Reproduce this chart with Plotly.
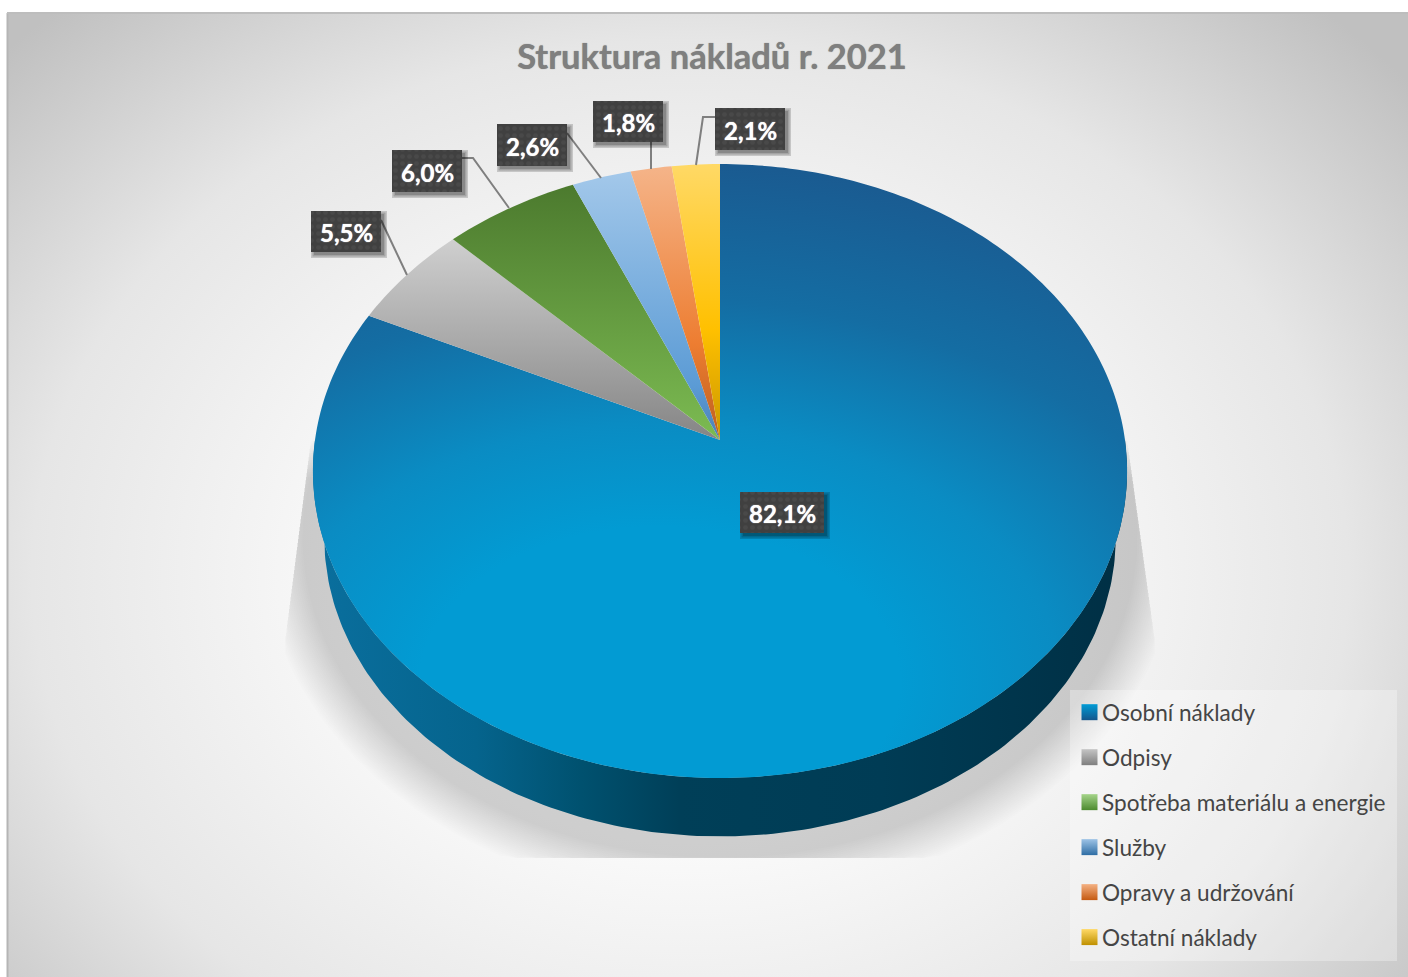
import math
import plotly.graph_objects as go

# ---------- data ----------
categories = ["Osobní náklady", "Odpisy", "Spotřeba materiálu a energie",
              "Služby", "Opravy a udržování", "Ostatní náklady"]
shares = [82.1, 5.5, 6.0, 2.6, 1.8, 2.1]
labels = ["82,1%", "5,5%", "6,0%", "2,6%", "1,8%", "2,1%"]
chart_title = "Struktura nákladů r. 2021"

# ---------- styles ----------
slice_scales = [
    None,
    [[0, "#858585"], [1, "#cfcfcf"]],
    [[0, "#7cbb52"], [1, "#4c7a2e"]],
    [[0, "#4a80b5"], [0.2, "#5b9bd5"], [1, "#a3c8ea"]],
    [[0, "#bd5f1e"], [0.35, "#ed7d31"], [1, "#f5b489"]],
    [[0, "#c99700"], [0.4, "#ffc000"], [1, "#ffd966"]],
]
key_colors = [("#009cd6", "#14568c"), ("#c4c4c4", "#7f7f7f"), ("#a5d48a", "#4c8a2e"),
              ("#9dc3e6", "#2e6da4"), ("#f4b183", "#c55a11"), ("#ffd966", "#bf9000")]
# projection of the pie disc
CX, CY, RX = 720.0, 440.0, 405.0
VA, VC = -259.4, 0.101


def rim(theta_deg, scale=1.0, dy=0.0):
    t = math.radians(theta_deg)
    u, v = math.sin(t), math.cos(t)
    d = 1 + VC * v
    x = CX + RX * u / d
    y = (VA * v + CY) / d
    return CX + (x - CX) * scale, 471 + (y - 471) * scale + dy


def poly(points):
    return [p[0] for p in points] + [points[0][0]], [p[1] for p in points] + [points[0][1]]


fig = go.Figure()

# chart-area background
fig.add_trace(go.Scatter(
    x=[-250, 1630, 1630, -250, -250], y=[-190, -190, 1340, 1340, -190], mode="lines",
    line=dict(width=0), fill="toself", showlegend=False, hoverinfo="skip",
    fillgradient=dict(type="radial", colorscale=[[0, "#ffffff"], [0.35, "#fafafa"], [0.7, "#e6e6e6"], [1, "#c0c0c0"]])))

# soft shadow under the pie
shadow_steps = list(range(64, 20, -2))
for d in shadow_steps:
    pts = []
    for a in range(0, 360, 2):
        x, y = rim(a, 0.972, 67)
        x = CX + (x - CX) * (1 + d / 395)
        y = 538 + (y - 538) * (1 + d / 300)
        y = max(min(y, 858), 400 + d * 1.2)
        lim = min(1, max(0, (y - 430) / 210))
        x = max(x, 312 - 27 * lim)
        x = min(x, 1126 + 29 * lim)
        pts.append((x, y))
    xs, ys = poly(pts)
    fig.add_trace(go.Scatter(x=xs, y=ys, mode="lines", line=dict(width=0), fill="toself",
                             fillcolor="rgba(0,0,0,0.0085)", showlegend=False, hoverinfo="skip"))

# side wall
wall = [rim(a) for a in range(90, 271, 1)] + [rim(a, 0.972, 67) for a in range(270, 89, -1)]
xs, ys = poly(wall)
fig.add_trace(go.Scatter(
    x=xs, y=ys, mode="lines", line=dict(width=0), fill="toself", showlegend=False, hoverinfo="skip",
    fillgradient=dict(type="horizontal", colorscale=[
        [0, "#0a6f9e"], [0.2, "#05648d"], [0.33, "#00516f"], [0.45, "#003f58"],
        [0.7, "#003c55"], [1, "#002f44"]])))

# slices
total = sum(shares)
start = 0.0
for i, share in enumerate(shares):
    sweep = share / total * 360
    n = max(4, int(sweep))
    pts = [(CX, CY)] + [rim(start + sweep * k / n) for k in range(n + 1)]
    if i == 0:
        # zero-area spurs stretch the box the radial gradient is fitted to
        pts += [(CX, CY), (-140, CY), (CX, CY), (1460, CY), (CX, CY), (CX, 1200)]
        xs, ys = poly(pts)
        grad = dict(type="radial", colorscale=[
            [0, "#029bd3"], [0.3, "#029bd3"], [0.5, "#0a8cc3"], [0.74, "#146da3"], [1, "#1a5b91"]])
    else:
        xs, ys = poly(pts)
        grad = dict(type="vertical", colorscale=slice_scales[i])
    fig.add_trace(go.Scatter(x=xs, y=ys, mode="lines", line=dict(width=0, simplify=False), fill="toself",
                             fillgradient=grad, name=categories[i], showlegend=False, hoverinfo="skip"))
    start += sweep

# label boxes
label_boxes = [(740, 492, 824, 533), (311, 211, 381, 252), (392, 150, 462, 192),
               (497, 124, 567, 166), (593, 101, 663, 142), (715, 108, 785, 150)]
leaders = [[(381, 220), (407, 275)], [(462, 158), (473, 158), (509, 208)], [(567, 133), (601, 178)],
           [(651, 142), (651, 169)], [(715, 117), (703, 117), (696, 165)]]
lx, ly = [], []
for seg in leaders:
    lx += [p[0] for p in seg] + [None]
    ly += [p[1] for p in seg] + [None]
fig.add_trace(go.Scatter(x=lx, y=ly, mode="lines", line=dict(color="#7f7f7f", width=2),
                         showlegend=False, hoverinfo="skip"))


def rects(offset=0, grow=0):
    rx, ry = [], []
    for x0, y0, x1, y1 in label_boxes:
        x0 += offset - grow; x1 += offset + grow; y0 += offset - grow; y1 += offset + grow
        rx += [x0, x1, x1, x0, x0, None]
        ry += [y0, y0, y1, y1, y0, None]
    return rx, ry


for off, grow in [(3, 3), (3, 1.5), (3, 0)]:
    rx, ry = rects(off, grow)
    fig.add_trace(go.Scatter(x=rx, y=ry, mode="lines", line=dict(width=0), fill="toself",
                             fillcolor="rgba(0,0,0,0.17)", showlegend=False, hoverinfo="skip"))
rx, ry = rects()
fig.add_trace(go.Scatter(x=rx, y=ry, mode="lines", line=dict(width=0), fill="toself",
                         fillcolor="#404040", showlegend=False, hoverinfo="skip",
                         fillpattern=dict(shape=".", fgcolor="#525252", bgcolor="#404040", size=7, solidity=0.35)))

# legend keys
for i, name in enumerate(categories):
    fig.add_trace(go.Scatter(
        x=[None], y=[None], mode="markers", name=name, legendgroup=name,
        marker=dict(symbol="square", size=16, color=key_colors[i][0],
                    gradient=dict(type="vertical", color=key_colors[i][1]))))

annotations = []
for text, (x0, y0, x1, y1) in zip(labels, label_boxes):
    annotations.append(dict(x=(x0 + x1) / 2, y=(y0 + y1) / 2 + 1, xref="x", yref="y", text=f"<b>{text}</b>",
                            showarrow=False,
                            font=dict(family="Lato", size=24, color="#ffffff", shadow="0 0 1px #ffffff")))

fig.update_layout(
    width=1408, height=977, autosize=False,
    margin=dict(l=0, r=0, t=0, b=0),
    paper_bgcolor="#ffffff", plot_bgcolor="#ffffff",
    title=dict(text=f"<b>{chart_title}</b>", x=712 / 1408, xanchor="center", xref="paper",
               y=1 - 57 / 977, yanchor="middle", yref="paper",
               font=dict(family="Lato", size=34.5, color="#7f7f7f", shadow="0 0 1px #7f7f7f")),
    xaxis=dict(range=[7, 1408], domain=[7 / 1408, 1], visible=False, fixedrange=True),
    yaxis=dict(range=[977, 13], domain=[0, 1 - 13 / 977], visible=False, fixedrange=True),
    legend=dict(x=1062 / 1408, y=1 - 691 / 977, xanchor="left", yanchor="top", bgcolor="rgba(0,0,0,0)",
                tracegroupgap=12.6, font=dict(family="Lato", size=22.6, color="#454545"), itemclick=False),
    shapes=[
        dict(type="rect", xref="x", yref="y", x0=1070, x1=1397, y0=690, y1=961,
             fillcolor="rgba(255,255,255,0.3)", line=dict(width=0)),
        dict(type="line", xref="paper", yref="paper", x0=7.5 / 1408, x1=7.5 / 1408, y0=0, y1=1 - 13 / 977,
             line=dict(color="#b5b5b5", width=2)),
        dict(type="line", xref="paper", yref="paper", x0=7 / 1408, x1=1, y0=1 - 13 / 977, y1=1 - 13 / 977,
             line=dict(color="#bdbdbd", width=2)),
    ],
    annotations=annotations,
)
fig.write_html(
    "out.html",
    config={"displayModeBar": False},
    post_script="document.body.style.margin='0';"
                "document.querySelectorAll('.legendsymbols').forEach(function(e){e.setAttribute('transform','translate(7.5,0)');});",
)
